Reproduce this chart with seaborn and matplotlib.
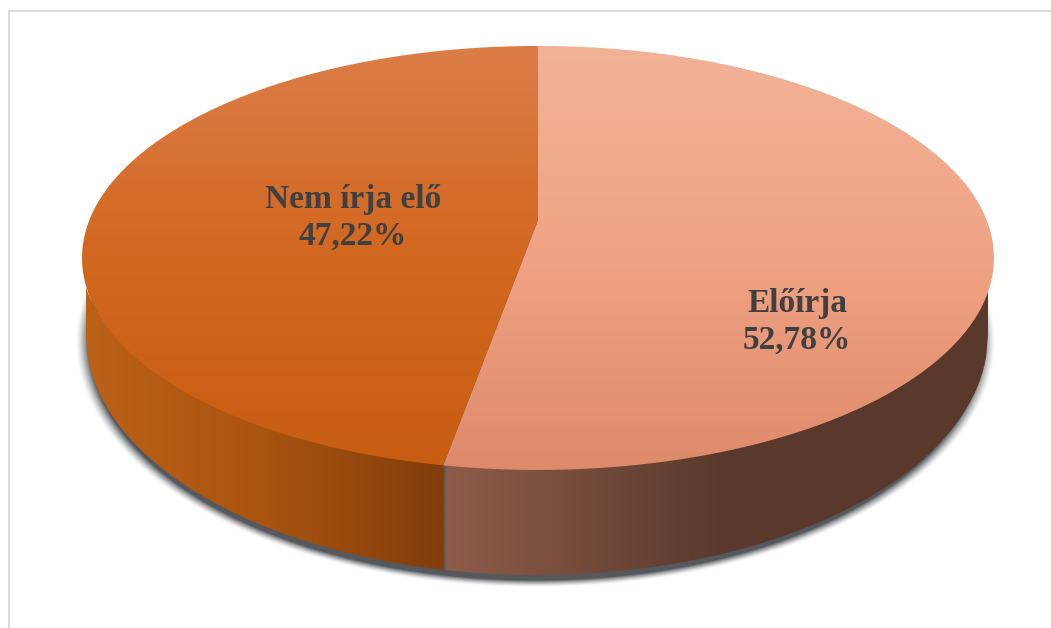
import numpy as np
import matplotlib
matplotlib.use('Agg')
import matplotlib.pyplot as plt
from matplotlib.patches import Polygon
import seaborn as sns

sns.set_theme(style='white')
plt.rcParams['font.family'] = ['Liberation Serif', 'DejaVu Serif']

# Data
categories = ['Előírja', 'Nem írja elő']
shares = [52.78, 47.22]

# Colours of the gradients
top_colors = [['#F2B298', '#F0A384', '#DD8A6A'], ['#DB7D48', '#D2671F', '#C75D12']]
side_colors = [['#8E5D4A', '#5A392C', '#5A392C'], ['#BC6118', '#A9540F', '#823D0B']]
text_color = '#404040'
frame_color = '#DCDCDC'
label_pos = [(797, 322), (353, 218)]

# Pie geometry in pixels
cx, cy = 538, 220
A, B, k = 448.6, 205.2, 0.179
low_cy, low_a, low_b = 335, 451, 240
W, H = 1051, 628


def project(theta):
    # theta runs clockwise from the top of the pie
    u, v = np.sin(theta), np.cos(theta)
    return cx + A * u / (1 + k * v), cy - B * v / (1 + k * v)


def gradient(ax, colors, extent, horizontal, patch):
    cmap = sns.blend_palette(colors, as_cmap=True)
    ramp = np.linspace(0, 1, 256)
    ramp = ramp.reshape(1, -1) if horizontal else ramp.reshape(-1, 1)
    im = ax.imshow(ramp, cmap=cmap, extent=extent, aspect='auto', zorder=patch.get_zorder())
    im.set_clip_path(patch)


fig = plt.figure(figsize=(W / 100, H / 100), dpi=100)
ax = fig.add_axes([0, 0, 1, 1])
ax.set_xlim(0, W)
ax.set_ylim(H, 0)
ax.axis('off')

# Frame
ax.plot([W, 9, 9], [10.5, 10.5, H], color=frame_color, lw=1.4, zorder=1)

# Soft shadow under the pie
gx, gy = np.meshgrid(np.arange(W), np.arange(H))
dist = np.sqrt(((gx - 535) / 451) ** 2 + ((gy - 341) / 241) ** 2)
rgba = np.zeros((H, W, 4))
rgba[..., :3] = matplotlib.colors.to_rgb('#55595D')
rgba[..., 3] = np.clip((1.02 - dist) / 0.03, 0, 1) ** 1.5
ax.imshow(rgba, extent=(0, W, H, 0), aspect='auto', zorder=2)

# Slice limits
edges = np.cumsum([0] + shares) / 100 * 2 * np.pi
split_x, split_y = project(edges[1])

# Side walls
xs_left = np.linspace(cx - low_a - 1, split_x, 300)
xs_right = np.linspace(split_x + 2, cx + low_a - 1, 300)
for i, xs in enumerate([xs_right, xs_left]):
    upper = 258 + 212 * np.sqrt(np.clip(1 - ((xs - 537) / 456) ** 2, 0, 1))
    lower = low_cy + low_b * np.sqrt(np.clip(1 - ((xs - 537) / low_a) ** 2, 0, 1))
    pts = np.r_[np.c_[xs, upper - 2], np.c_[xs[::-1], lower[::-1]]]
    wall = Polygon(pts, closed=True, fc='none', ec='none', zorder=3)
    ax.add_patch(wall)
    if i == 0:
        # right wall gets dark by about x=720 and then stays flat
        gradient(ax, side_colors[i], (split_x, 2 * 720 - split_x, H, 0), True, wall)
    else:
        gradient(ax, side_colors[i], (xs[0], xs[-1], H, 0), True, wall)

# Top faces
for i in range(len(shares)):
    theta = np.linspace(edges[i], edges[i + 1], 300)
    px, py = project(theta)
    face = Polygon(np.r_[[[cx, cy]], np.c_[px, py]], closed=True, fc='none', ec='none', zorder=4)
    ax.add_patch(face)
    gradient(ax, top_colors[i], (0, W, 470, 46), False, face)
    ax.text(label_pos[i][0], label_pos[i][1], f'{categories[i]}\n{shares[i]:.2f}%'.replace('.', ','),
            ha='center', va='center', fontsize=24, fontweight='bold', color=text_color,
            linespacing=1.22, zorder=5)

ax.set_xlim(0, W)
ax.set_ylim(H, 0)
fig.savefig('out.png', dpi=100, facecolor='white')
